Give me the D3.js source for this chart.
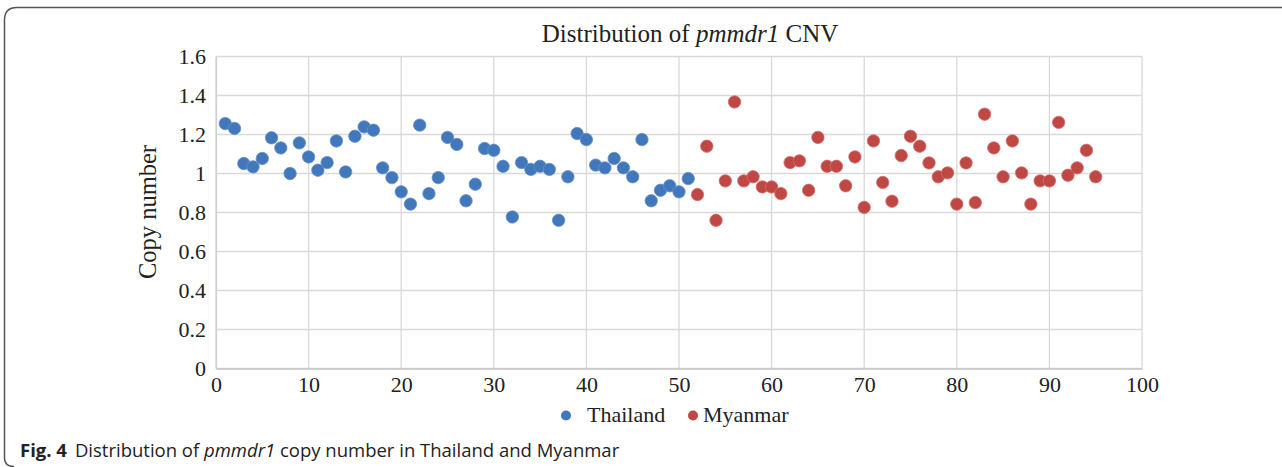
<!DOCTYPE html>
<html>
<head>
<meta charset="utf-8">
<script src="https://cdn.jsdelivr.net/npm/d3@7"></script>
<style>
    body { margin: 0; background: #fff; }
    svg { display: block; }
</style>
</head>
<body>
<div id="chart"></div>
<script>
// data (sample number -> copy number)
var thailandValues = [1.256, 1.231, 1.051, 1.034, 1.077, 1.183, 1.131, 1.0, 1.157, 1.085,
    1.017, 1.056, 1.167, 1.008, 1.191, 1.239, 1.222, 1.029, 0.979, 0.906,
    0.843, 1.248, 0.897, 0.979, 1.185, 1.149, 0.860, 0.945, 1.128, 1.119,
    1.037, 0.777, 1.056, 1.021, 1.037, 1.021, 0.760, 0.983, 1.205, 1.174,
    1.043, 1.029, 1.077, 1.029, 0.983, 1.174, 0.860, 0.914, 0.937, 0.906,
    0.974];
var myanmarValues = [0.892, 1.140, 0.760, 0.962, 1.367, 0.962, 0.983, 0.931, 0.931, 0.897,
    1.056, 1.065, 0.914, 1.185, 1.037, 1.037, 0.937, 1.085, 0.826, 1.167,
    0.954, 0.858, 1.092, 1.191, 1.140, 1.054, 0.983, 1.003, 0.843, 1.054,
    0.851, 1.304, 1.131, 0.983, 1.167, 1.003, 0.843, 0.962, 0.962, 1.262,
    0.991, 1.029, 1.119, 0.983];
var seriesNames = ["Thailand", "Myanmar"];
var seriesColors = ["#4177bb", "#bf4744"];
var xTicks = [0, 10, 20, 30, 40, 50, 60, 70, 80, 90, 100];
var yTicks = [0, 0.2, 0.4, 0.6, 0.8, 1, 1.2, 1.4, 1.6];

var width = 1282;
var height = 467;
var serif = "'Liberation Serif', 'Times New Roman', serif";

const svg = d3.select("#chart").append("svg")
    .attr("width", width)
    .attr("height", height);

// figure frame (rounded corners, runs off the right edge)
svg.append("path")
    .attr("d", "M14,466.5 Q4.5,466.5 4.5,458 L4.5,20 Q4.5,7.5 17,7.5 L1290,7.5")
    .attr("fill", "none")
    .attr("stroke", "#555")
    .attr("stroke-width", 1.5);

// scales
const x = d3.scaleLinear().domain([0, 100]).range([216, 1142]);
const y = d3.scaleLinear().domain([0, 1.6]).range([368.5, 56.5]);

// gridlines
svg.append("g").selectAll("line")
    .data(xTicks)
    .enter().append("line")
    .attr("x1", d => x(d)).attr("x2", d => x(d))
    .attr("y1", y(0)).attr("y2", y(1.6))
    .attr("stroke", "#d9d9d9").attr("stroke-width", 1.3);
svg.append("g").selectAll("line")
    .data(yTicks)
    .enter().append("line")
    .attr("x1", x(0)).attr("x2", x(100))
    .attr("y1", d => y(d)).attr("y2", d => y(d))
    .attr("stroke", "#d9d9d9").attr("stroke-width", 1.3);

// axes
const xAxis = svg.append("g")
    .attr("transform", `translate(0,${y(0)})`)
    .call(d3.axisBottom(x).tickValues(xTicks).tickSize(0).tickPadding(8).tickFormat(d3.format("d")));
const yAxis = svg.append("g")
    .attr("transform", `translate(${x(0)},0)`)
    .call(d3.axisLeft(y).tickValues(yTicks).tickSize(0).tickPadding(10).tickFormat(d => d == 0 || d == 1 ? String(d) : d.toFixed(1)));
[xAxis, yAxis].forEach(function(a) {
    a.select(".domain").attr("stroke", "#c4c4c4").attr("stroke-width", 1.6);
    a.selectAll("text").attr("font-family", serif).attr("font-size", 22).attr("fill", "#222");
});
yAxis.select(".domain").attr("stroke", "#d0d0d0").attr("stroke-width", 1.3);

// title
const title = svg.append("text")
    .attr("x", 690).attr("y", 42)
    .attr("text-anchor", "middle")
    .attr("font-family", serif).attr("font-size", 25).attr("fill", "#222");
title.append("tspan").text("Distribution of ");
title.append("tspan").attr("font-style", "italic").text("pmmdr1");
title.append("tspan").text(" CNV");

// y axis title
svg.append("text")
    .attr("transform", "translate(156,212) rotate(-90)")
    .attr("text-anchor", "middle")
    .attr("font-family", serif).attr("font-size", 24.5).attr("fill", "#222")
    .text("Copy number");

// points
var data = [];
thailandValues.forEach(function(v, i) { data.push({ n: i + 1, v: v, s: 0 }); });
myanmarValues.forEach(function(v, i) { data.push({ n: thailandValues.length + i + 1, v: v, s: 1 }); });

svg.append("g").selectAll("circle")
    .data(data)
    .enter().append("circle")
    .attr("cx", d => x(d.n))
    .attr("cy", d => y(d.v))
    .attr("r", 6.2)
    .attr("fill", d => seriesColors[d.s])
    .attr("stroke", d => d.s == 0 ? "#6690c6" : "#d2706c")
    .attr("stroke-width", 0.8);

// legend (marker x, text x)
var legendPos = [[566, 587], [693, 703]];
seriesNames.forEach(function(name, i) {
    svg.append("circle")
        .attr("cx", legendPos[i][0]).attr("cy", 415.5)
        .attr("r", 5)
        .attr("fill", seriesColors[i]);
    svg.append("text")
        .attr("x", legendPos[i][1]).attr("y", 422)
        .attr("font-family", serif).attr("font-size", 22).attr("fill", "#222")
        .text(name);
});

// caption
const caption = svg.append("text")
    .attr("x", 20).attr("y", 457)
    .attr("font-family", "'Open Sans', 'Noto Sans', sans-serif").attr("font-size", 18.5).attr("fill", "#222");
caption.append("tspan").attr("font-weight", "bold").text("Fig. 4");
caption.append("tspan").attr("dx", 8).text("Distribution of ");
caption.append("tspan").attr("font-style", "italic").text("pmmdr1");
caption.append("tspan").text(" copy number in Thailand and Myanmar");
</script>
</body>
</html>
